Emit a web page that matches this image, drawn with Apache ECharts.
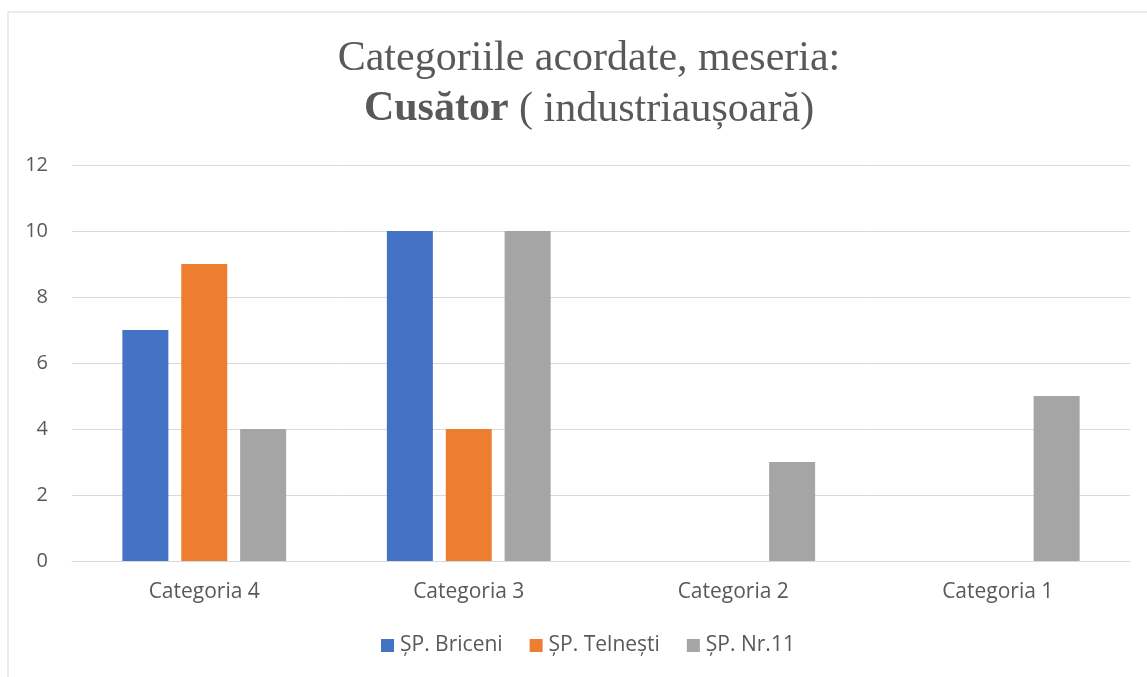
<!DOCTYPE html>
<html>
<head>
<meta charset="utf-8">
<script src="https://cdn.jsdelivr.net/npm/echarts@6/dist/echarts.min.js"></script>
<style>
  html, body { margin: 0; padding: 0; background: #fff; }
  #chart { width: 1147px; height: 677px; }
</style>
</head>
<body>
<div id="chart"></div>
<script>
// date
const categories = ["Categoria 4", "Categoria 3", "Categoria 2", "Categoria 1"];
const seriesNames = ["ȘP. Briceni", "ȘP. Telnești", "ȘP. Nr.11"];
const briceni = [7, 10, 0, 0];
const telnesti = [9, 4, 0, 0];
const nr11 = [4, 10, 3, 5];
const yTicks = { min: 0, max: 12, interval: 2 };

const colors = ["#4472c4", "#ed7d31", "#a5a5a5"];
const textColor = "#595959";
const sans = "'Open Sans', 'Liberation Sans', sans-serif";
const serif = "'Liberation Serif', 'DejaVu Serif', serif";

const chart = echarts.init(document.getElementById("chart"));

const option = {
  animation: false,
  color: colors,
  graphic: [{
    type: "rect",
    shape: { x: 8, y: 12, width: 1160, height: 700 },
    style: { fill: "none", stroke: "#d9d9d9", lineWidth: 1 },
    silent: true
  }],
  title: {
    left: 584,
    top: 28,
    textAlign: "center",
    text: "Categoriile acordate, meseria:\n{b|Cusător} ( industriaușoară)",
    textStyle: {
      fontFamily: serif,
      fontSize: 42,
      fontWeight: "normal",
      color: textColor,
      lineHeight: 51,
      rich: {
        b: { fontFamily: serif, fontSize: 42, fontWeight: "bold", color: textColor, lineHeight: 51 }
      }
    }
  },
  legend: {
    data: seriesNames,
    left: 381,
    top: 635,
    padding: 0,
    icon: "rect",
    itemWidth: 13,
    itemHeight: 13,
    itemGap: 27,
    textStyle: { fontFamily: sans, fontSize: 21, color: textColor, padding: [0, 0, 0, 1] }
  },
  grid: { left: 72, right: 17, top: 165, bottom: 116, containLabel: false },
  xAxis: {
    type: "category",
    data: categories,
    axisLine: { show: true, lineStyle: { color: "#d9d9d9", width: 1 } },
    axisTick: { show: false },
    axisLabel: { fontFamily: sans, fontSize: 21, color: textColor, margin: 21 }
  },
  yAxis: {
    type: "value",
    min: yTicks.min,
    max: yTicks.max,
    interval: yTicks.interval,
    axisLine: { show: false },
    axisTick: { show: false },
    splitLine: { lineStyle: { color: "#d9d9d9", width: 1 } },
    axisLabel: { fontFamily: sans, fontSize: 20, color: textColor, margin: 24 }
  },
  series: [
    { name: seriesNames[0], type: "bar", data: briceni, barWidth: 46, barGap: "28%" },
    { name: seriesNames[1], type: "bar", data: telnesti, barWidth: 46, barGap: "28%" },
    { name: seriesNames[2], type: "bar", data: nr11, barWidth: 46, barGap: "28%" }
  ]
};

chart.setOption(option);
window.addEventListener("resize", () => chart.resize());
</script>
</body>
</html>
